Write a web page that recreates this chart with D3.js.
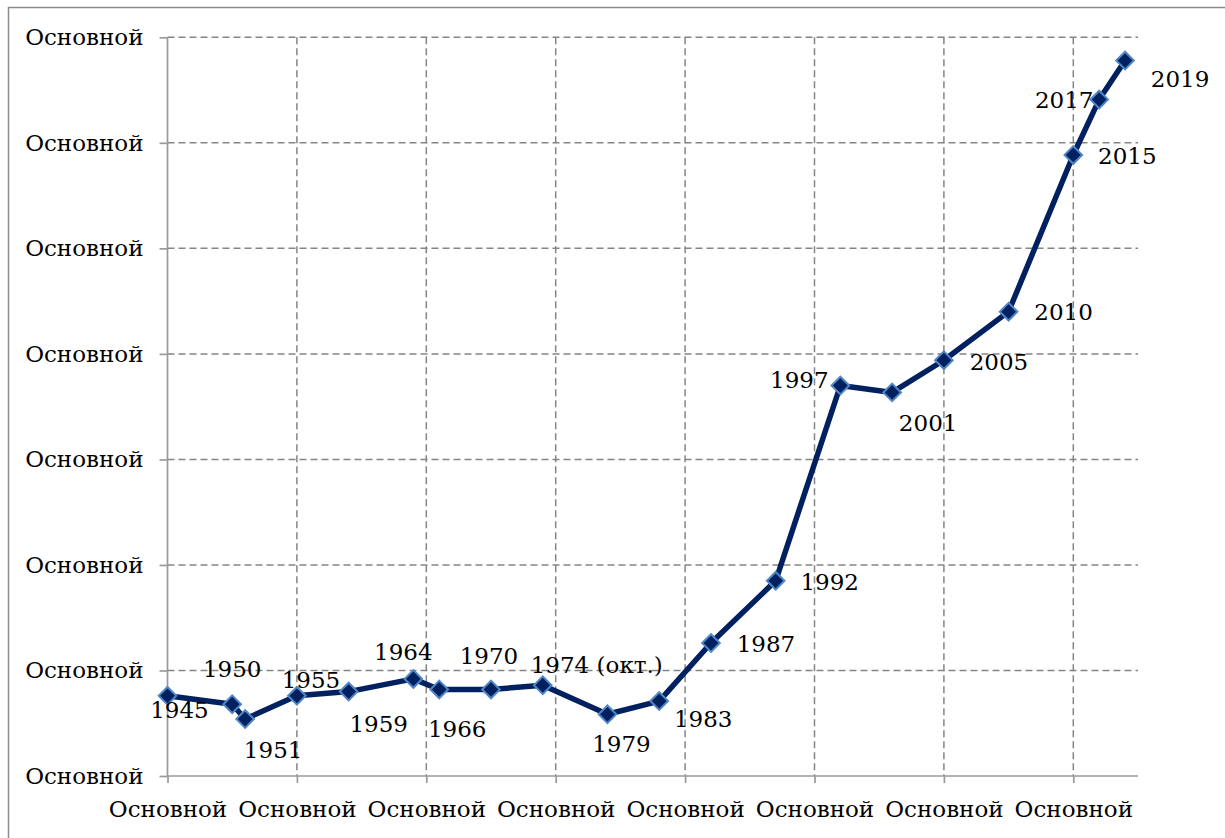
<!DOCTYPE html>
<html lang="ru">
<head>
    <meta charset="UTF-8">
    <title>Chart</title>
    <script src="https://cdnjs.cloudflare.com/ajax/libs/d3/7.8.5/d3.min.js"></script>
    <style>
        body { margin: 0; background: #fff; }
        text { font-family: "DejaVu Serif", serif; font-size: 23px; fill: #000; }
    </style>
</head>
<body>
    <div id="chart"></div>
    <script>
        // data
        var years = [1945, 1950, 1951, 1955, 1959, 1964, 1966, 1970, 1974, 1979,
                     1983, 1987, 1992, 1997, 2001, 2005, 2010, 2015, 2017, 2019];
        var pointLabels = ["1945", "1950", "1951", "1955", "1959", "1964", "1966", "1970", "1974 (окт.)", "1979",
                           "1983", "1987", "1992", "1997", "2001", "2005", "2010", "2015", "2017", "2019"];
        var values = [7.6, 6.8, 5.4, 7.6, 8.0, 9.2, 8.2, 8.2, 8.6, 5.85,
                      7.1, 12.6, 18.5, 37.0, 36.35, 39.4, 44.0, 58.85, 64.1, 67.8];
        var xTicks = [1945, 1955, 1965, 1975, 1985, 1995, 2005, 2015];
        var xTickLabels = ["Основной", "Основной", "Основной", "Основной", "Основной", "Основной", "Основной", "Основной"];
        var yTicks = [0, 10, 20, 30, 40, 50, 60, 70];
        var yTickLabels = ["Основной", "Основной", "Основной", "Основной", "Основной", "Основной", "Основной", "Основной"];

        // where each label sits relative to its point (centre of text)
        var labelShift = [[12, 14], [0, -36], [28, 31], [14, -16], [30, 32], [-10, -27], [18, 39], [-2, -34], [54, -21], [14, 29],
                          [44, 18], [55, 1], [54, 1], [-41, -6], [36, 30], [55, 2], [55, 0], [54, 1], [-35, 0], [55, 18]];

        var W = 1225, H = 838;
        var svg = d3.select("#chart").append("svg")
                    .attr("width", W)
                    .attr("height", H);

        // outer frame
        svg.append("rect")
            .attr("x", 8.5).attr("y", 7.5)
            .attr("width", W + 20).attr("height", H + 20)
            .attr("fill", "none")
            .attr("stroke", "#8c8c8c")
            .attr("stroke-width", 1.5);

        var x = d3.scaleLinear().domain([1945, 2020]).range([167.5, 1138]);
        var y = d3.scaleLinear().domain([0, 70]).range([776, 37.3]);

        // grid
        svg.append("g").selectAll("line")
            .data(yTicks.slice(1))
            .enter().append("line")
            .attr("x1", x(1945)).attr("x2", x(2020))
            .attr("y1", function(d) { return y(d); })
            .attr("y2", function(d) { return y(d); })
            .attr("stroke", "#858585")
            .attr("stroke-width", 1.5)
            .attr("stroke-dasharray", "7,4");

        svg.append("g").selectAll("line")
            .data(xTicks.slice(1))
            .enter().append("line")
            .attr("x1", function(d) { return x(d); })
            .attr("x2", function(d) { return x(d); })
            .attr("y1", y(70)).attr("y2", y(0))
            .attr("stroke", "#858585")
            .attr("stroke-width", 1.5)
            .attr("stroke-dasharray", "7,4");

        // axes
        var xAxis = d3.axisBottom(x)
                    .tickValues(xTicks)
                    .tickSize(7)
                    .tickPadding(12)
                    .tickFormat(function(d, i) { return xTickLabels[i]; });
        var yAxis = d3.axisLeft(y)
                    .tickValues(yTicks)
                    .tickSize(8)
                    .tickPadding(16)
                    .tickFormat(function(d, i) { return yTickLabels[i]; });

        var gx = svg.append("g").attr("transform", "translate(0," + y(0) + ")").call(xAxis);
        var gy = svg.append("g").attr("transform", "translate(" + x(1945) + ",0)").call(yAxis);

        [gx, gy].forEach(function(g) {
            g.select(".domain").attr("stroke", "#9a9a9a").attr("stroke-width", 1.7);
            g.selectAll(".tick line").attr("stroke", "#9a9a9a").attr("stroke-width", 1.7);
            g.selectAll(".tick text")
                .attr("font-family", "DejaVu Serif, serif")
                .attr("font-size", 23)
                .attr("fill", "#000");
        });
        gx.select(".domain").attr("d", "M" + x(1945) + ",0H" + x(2020));
        gx.selectAll(".tick text").attr("dy", "0.95em");
        gy.select(".domain").attr("d", "M0," + y(70) + "V" + y(0));

        var pts = years.map(function(yr, i) { return {year: yr, value: values[i], label: pointLabels[i], shift: labelShift[i]}; });

        var line = d3.line()
                    .x(function(d) { return x(d.year); })
                    .y(function(d) { return y(d.value); });

        svg.append("path")
            .datum(pts)
            .attr("d", line)
            .attr("fill", "none")
            .attr("stroke", "#002060")
            .attr("stroke-width", 5.5)
            .attr("stroke-linejoin", "round");

        svg.append("g").selectAll("path")
            .data(pts)
            .enter().append("path")
            .attr("d", d3.symbol().type(d3.symbolSquare).size(155))
            .attr("transform", function(d) { return "translate(" + x(d.year) + "," + y(d.value) + ") rotate(45)"; })
            .attr("fill", "#002060")
            .attr("stroke", "#4f86c6")
            .attr("stroke-width", 2);

        svg.append("g").selectAll("text")
            .data(pts)
            .enter().append("text")
            .attr("x", function(d) { return x(d.year) + d.shift[0]; })
            .attr("y", function(d) { return y(d.value) + d.shift[1]; })
            .attr("dy", "0.36em")
            .attr("text-anchor", "middle")
            .text(function(d) { return d.label; });
    </script>
</body>
</html>
